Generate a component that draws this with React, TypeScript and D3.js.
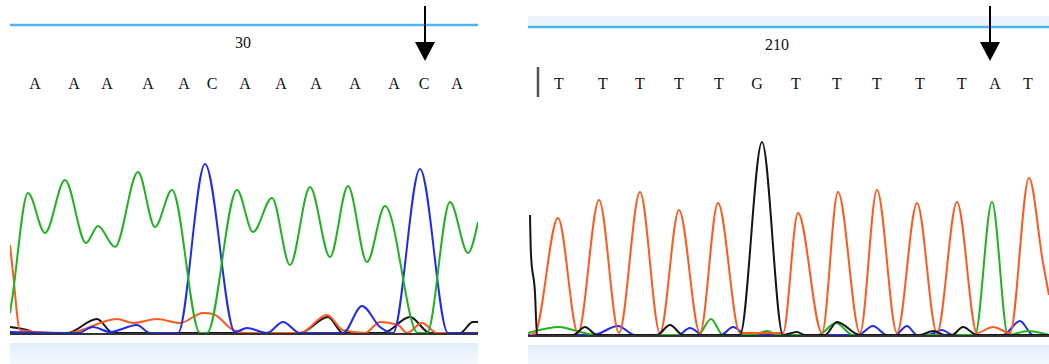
import React from "react";
import * as d3 from "d3";

type P = [number, number];

// ---- Left panel (scan position, intensity) ----
const leftBases = ["A", "A", "A", "A", "A", "C", "A", "A", "A", "A", "A", "C", "A"];
const leftBasePos = [25, 64, 97, 138, 174, 202, 235, 271, 306, 345, 384, 414, 447];
const leftTickLabel = "30";
const leftTickPos = 233;
const leftArrowPos = 415;

const leftGreen: P[] = [
  [0, 20], [2, 33], [18, 140], [35, 100], [55, 153], [76, 90], [88, 107], [105, 86],
  [128, 161], [145, 106], [162, 143], [190, 0], [197, 0], [227, 143], [243, 101],
  [262, 135], [280, 68], [300, 146], [320, 76], [338, 147], [357, 71], [375, 127],
  [408, 0], [417, 0], [440, 131], [458, 80], [468, 111],
];
const leftBlue: P[] = [
  [0, 1], [68, 0], [83, 6], [100, 1], [127, 8], [140, 0], [168, 0], [195, 169],
  [225, 1], [237, 5], [257, 0], [273, 11], [290, 0], [333, 0], [352, 27], [370, 6],
  [383, 0], [410, 164], [438, 0], [468, 0],
];
const leftOrange: P[] = [
  [0, 88], [3, 60], [10, 3], [43, 0], [58, 0], [107, 14], [123, 10], [147, 14],
  [170, 10], [193, 20], [203, 19], [223, 3], [235, 0], [290, 0], [317, 18], [333, 3],
  [355, 0], [370, 11], [388, 8], [397, 0], [412, 10], [427, 0], [468, 0],
];
const leftBlack: P[] = [
  [0, 6], [17, 3], [27, 0], [57, 0], [87, 14], [103, 0], [290, 0], [318, 16],
  [333, 0], [373, 0], [400, 16], [420, 0], [450, 0], [463, 11], [468, 11],
];

// ---- Right panel ----
const rightBases = ["T", "T", "T", "T", "T", "G", "T", "T", "T", "T", "T", "A", "T"];
const rightBasePos = [31, 75, 112, 151, 191, 229, 268, 309, 349, 392, 434, 467, 500];
const rightTickLabel = "210";
const rightTickPos = 249;
const rightArrowPos = 462;
const rightCursorPos = 10;

const rightOrange: P[] = [
  [2, 0], [7, 2], [30, 117], [50, 2], [71, 135], [91, 2], [112, 143], [132, 2],
  [151, 125], [172, 2], [190, 132], [212, 2], [255, 2], [270, 122], [294, 2],
  [310, 143], [332, 2], [349, 145], [369, 2], [389, 132], [409, 2], [429, 133],
  [449, 2], [465, 8], [482, 2], [501, 157], [515, 72], [521, 40],
];
const rightBlack: P[] = [
  [2, 120], [3, 80], [7, 42], [9, 0], [45, 0], [57, 8], [69, 0], [129, 0], [142, 10],
  [155, 0], [212, 0], [234, 193], [255, 0], [269, 3], [277, 0], [297, 0], [309, 13],
  [332, 0], [392, 0], [405, 4], [417, 0], [424, 0], [435, 8], [449, 0], [521, 0],
];
const rightGreen: P[] = [
  [0, 2], [32, 8], [45, 5], [69, 0], [170, 0], [183, 16], [195, 0], [225, 0],
  [239, 4], [250, 0], [290, 0], [308, 12], [325, 0], [447, 0], [464, 133], [480, 0],
  [500, 4], [521, 0],
];
const rightBlue: P[] = [
  [0, 0], [65, 0], [90, 9], [107, 0], [150, 0], [162, 7], [175, 0], [193, 0],
  [205, 8], [219, 0], [330, 0], [345, 9], [359, 0], [367, 0], [379, 9], [389, 0],
  [400, 0], [414, 5], [425, 0], [475, 0], [492, 14], [505, 0], [521, 0],
];

const COLORS = {
  green: "#1fb31f",
  blue: "#1f2cf0",
  orange: "#ff5a1e",
  black: "#151515",
};

interface PanelProps {
  x0: number;
  x1: number;
  scanMax: number;
  lineY: number;
  baseY: number;
  bandY: number;
  topBand: boolean;
  bases: string[];
  basePos: number[];
  tickLabel: string;
  tickPos: number;
  arrowPos: number;
  cursorPos?: number;
  traces: { data: P[]; color: string }[];
}

function Panel(p: PanelProps) {
  const x = d3.scaleLinear().domain([0, p.scanMax]).range([p.x0, p.x1]);
  const y = d3.scaleLinear().domain([0, 200]).range([p.baseY, p.baseY - 200]);
  const line = d3
    .line<P>()
    .x((d) => x(d[0]))
    .y((d) => y(d[1]))
    .curve(d3.curveMonotoneX);
  const ax = x(p.arrowPos);
  const clipId = `clip-${p.x0}`;
  return (
    <g>
      <defs>
        <clipPath id={clipId}>
          <rect x={p.x0} y={0} width={p.x1 - p.x0} height={364} />
        </clipPath>
        <linearGradient id={`band-${p.x0}`} x1="0" y1="0" x2="0" y2="1">
          <stop offset="0" stopColor="#e2eefc" />
          <stop offset="1" stopColor="#f3f8fe" />
        </linearGradient>
      </defs>
      {p.topBand && (
        <rect x={p.x0} y={p.lineY - 11} width={p.x1 - p.x0} height={10} fill="#eef4fb" />
      )}
      <line x1={p.x0} x2={p.x1} y1={p.lineY} y2={p.lineY} stroke="#4cb6f2" strokeWidth={2.5} />
      <text
        x={x(p.tickPos)}
        y={p.lineY + 23}
        textAnchor="middle"
        fontFamily="'Liberation Serif', 'DejaVu Serif', serif"
        fontSize={16}
        fill="#111"
      >
        {p.tickLabel}
      </text>
      {p.bases.map((b, i) => (
        <text
          key={i}
          x={x(p.basePos[i])}
          y={89}
          textAnchor="middle"
          fontFamily="'Liberation Serif', 'DejaVu Serif', serif"
          fontSize={16}
          fill="#111"
        >
          {b}
        </text>
      ))}
      {p.cursorPos !== undefined && (
        <line
          x1={x(p.cursorPos)}
          x2={x(p.cursorPos)}
          y1={67}
          y2={97}
          stroke="#555"
          strokeWidth={2.5}
        />
      )}
      <line x1={ax} x2={ax} y1={6} y2={44} stroke="#000" strokeWidth={2} />
      <path d={`M${ax - 10},42 L${ax + 10},42 L${ax},61 Z`} fill="#000" />
      <g clipPath={`url(#${clipId})`}>
        {p.traces.map((t, i) => (
          <path
            key={i}
            d={line(t.data) || ""}
            fill="none"
            stroke={t.color}
            strokeWidth={2}
            strokeLinejoin="round"
          />
        ))}
      </g>
      <line x1={p.x0} x2={p.x1} y1={p.baseY + 1} y2={p.baseY + 1} stroke="#333" strokeWidth={2} />
      <rect x={p.x0} y={p.bandY} width={p.x1 - p.x0} height={364 - p.bandY} fill={`url(#band-${p.x0})`} />
    </g>
  );
}

export default function App() {
  return (
    <svg
      width={1049}
      height={364}
      style={{ position: "absolute", left: 0, top: 0, background: "#fff" }}
    >
      <rect x={0} y={0} width={1049} height={364} fill="#fff" />
      <Panel
        x0={10}
        x1={478}
        scanMax={468}
        lineY={25}
        baseY={333}
        bandY={343}
        topBand={false}
        bases={leftBases}
        basePos={leftBasePos}
        tickLabel={leftTickLabel}
        tickPos={leftTickPos}
        arrowPos={leftArrowPos}
        traces={[
          { data: leftBlack, color: COLORS.black },
          { data: leftOrange, color: COLORS.orange },
          { data: leftBlue, color: COLORS.blue },
          { data: leftGreen, color: COLORS.green },
        ]}
      />
      <Panel
        x0={528}
        x1={1049}
        scanMax={521}
        lineY={27}
        baseY={335}
        bandY={345}
        topBand={true}
        bases={rightBases}
        basePos={rightBasePos}
        tickLabel={rightTickLabel}
        tickPos={rightTickPos}
        arrowPos={rightArrowPos}
        cursorPos={rightCursorPos}
        traces={[
          { data: rightBlue, color: COLORS.blue },
          { data: rightGreen, color: COLORS.green },
          { data: rightOrange, color: COLORS.orange },
          { data: rightBlack, color: COLORS.black },
        ]}
      />
    </svg>
  );
}
